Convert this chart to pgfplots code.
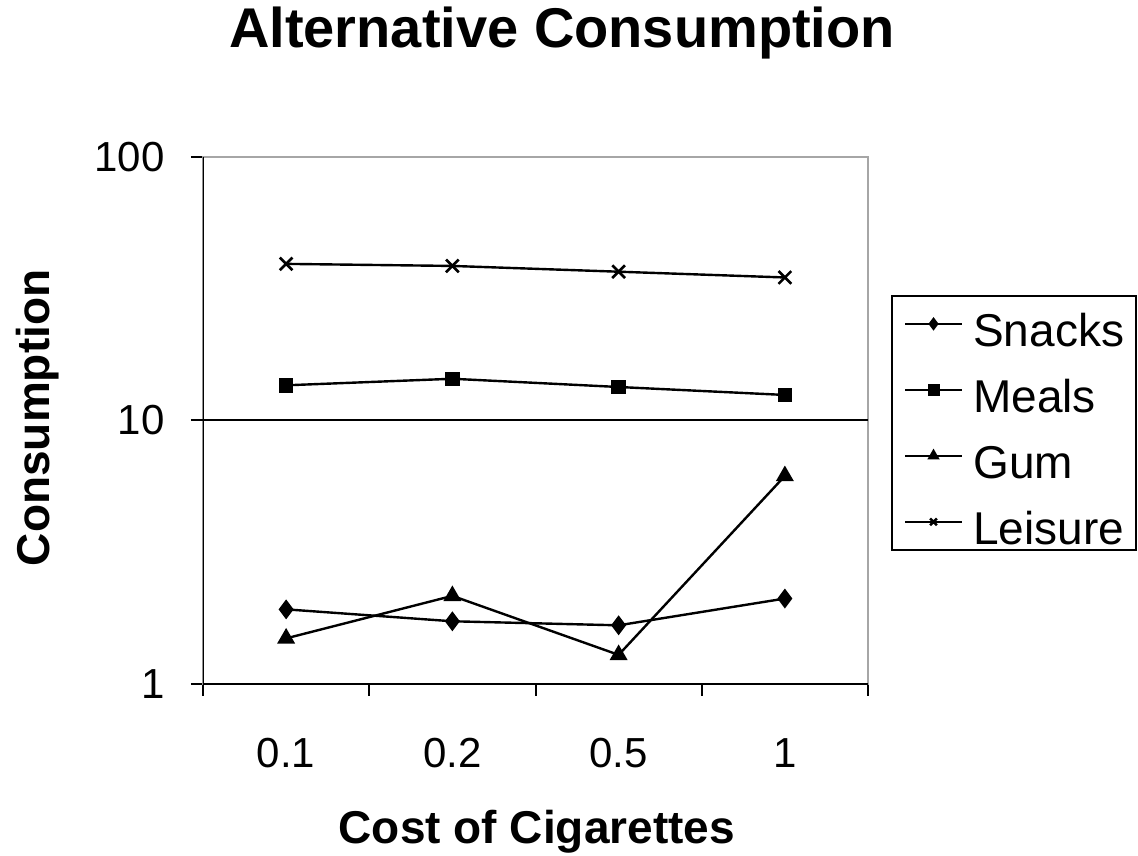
\documentclass[border=0pt]{standalone}
\usepackage{fontspec}
\setmainfont{Liberation Sans}
\usepackage{pgfplots}
\pgfplotsset{compat=1.18}
\begin{document}
\begin{tikzpicture}
\path[use as bounding box] (0,0) rectangle (569pt,427.5pt);
\begin{axis}[
  at={(101.5pt,85.5pt)}, anchor=south west,
  scale only axis, width=332.5pt, height=263.5pt,
  ymode=log, ymin=1, ymax=100,
  xmin=0.5, xmax=4.5,
  xtick={1,2,3,4}, xticklabels={0.1,0.2,0.5,1},
  minor xtick={0.5,1.5,2.5,3.5,4.5},
  major x tick style={draw=none},
  minor x tick style={black, line width=1pt},
  minor tick length=6pt,
  xtick pos=bottom, ytick pos=left,
  ytick={1,100}, yticklabels={1,100},
  extra y ticks={10}, extra y tick labels={10},
  extra y tick style={ymajorgrids=true, grid style={black, line width=1pt}},
  y tick style={black, line width=1pt},
  major tick length=6pt,
  tick align=outside,
  yminorticks=false,
  axis line style={gray!70, line width=1pt},
  xticklabel style={anchor=base, yshift=-36pt, font=\fontsize{21}{25}\selectfont},
  yticklabel style={anchor=east, inner sep=0pt, xshift=-13pt, font=\fontsize{21}{25}\selectfont},
  title={Alternative Consumption},
  title style={at={(axis description cs:0.54,1)}, anchor=base, yshift=48.5pt, font=\bfseries\fontsize{28}{34}\selectfont},
  xlabel={Cost of Cigarettes},
  xlabel style={at={(axis description cs:0.502,0)}, anchor=base, yshift=-79.5pt, font=\bfseries\fontsize{23}{28}\selectfont},
  ylabel={Consumption},
  ylabel style={at={(axis description cs:-0.2301,0.505)}, anchor=base, font=\bfseries\fontsize{23}{28}\selectfont},
  legend image code/.code={\draw[#1, line width=1.2pt, mark size=2.4pt, mark repeat=2, mark phase=2] plot coordinates {(0pt,0pt) (14.25pt,0pt) (28.5pt,0pt)};},
  legend style={at={(1.0346,0.738)}, anchor=north west, draw=black, line width=0.8pt,
    inner xsep=6pt, inner ysep=2.5pt, row sep=10pt,
    font=\fontsize{23}{28}\selectfont,
    nodes={inner sep=0pt, text height=23pt, text depth=0pt},
    /tikz/every odd column/.append style={column sep=5pt},
    cells={anchor=west}},
]
\addplot[black, line width=1.2pt, mark=diamond*, mark size=4pt, mark options={solid, fill=black}] coordinates {(1,1.92) (2,1.73) (3,1.67) (4,2.11)};
\addlegendentry{Snacks}
\addplot[black, line width=1.2pt, mark=square*, mark size=3pt, mark options={solid, fill=black}] coordinates {(1,13.6) (2,14.4) (3,13.4) (4,12.5)};
\addlegendentry{Meals}
\addplot[black, line width=1.2pt, mark=triangle*, mark size=4pt, mark options={solid, fill=black}] coordinates {(1,1.49) (2,2.16) (3,1.29) (4,6.16)};
\addlegendentry{Gum}
\addplot[black, line width=1.2pt, mark=x, mark size=4.5pt, mark options={solid, line width=1.3pt}] coordinates {(1,39.3) (2,38.6) (3,36.7) (4,34.9)};
\addlegendentry{Leisure}
\draw[black, line width=1.4pt] (rel axis cs:0,1) -- (rel axis cs:0,0) -- (rel axis cs:1,0);
\end{axis}
\end{tikzpicture}
\end{document}
